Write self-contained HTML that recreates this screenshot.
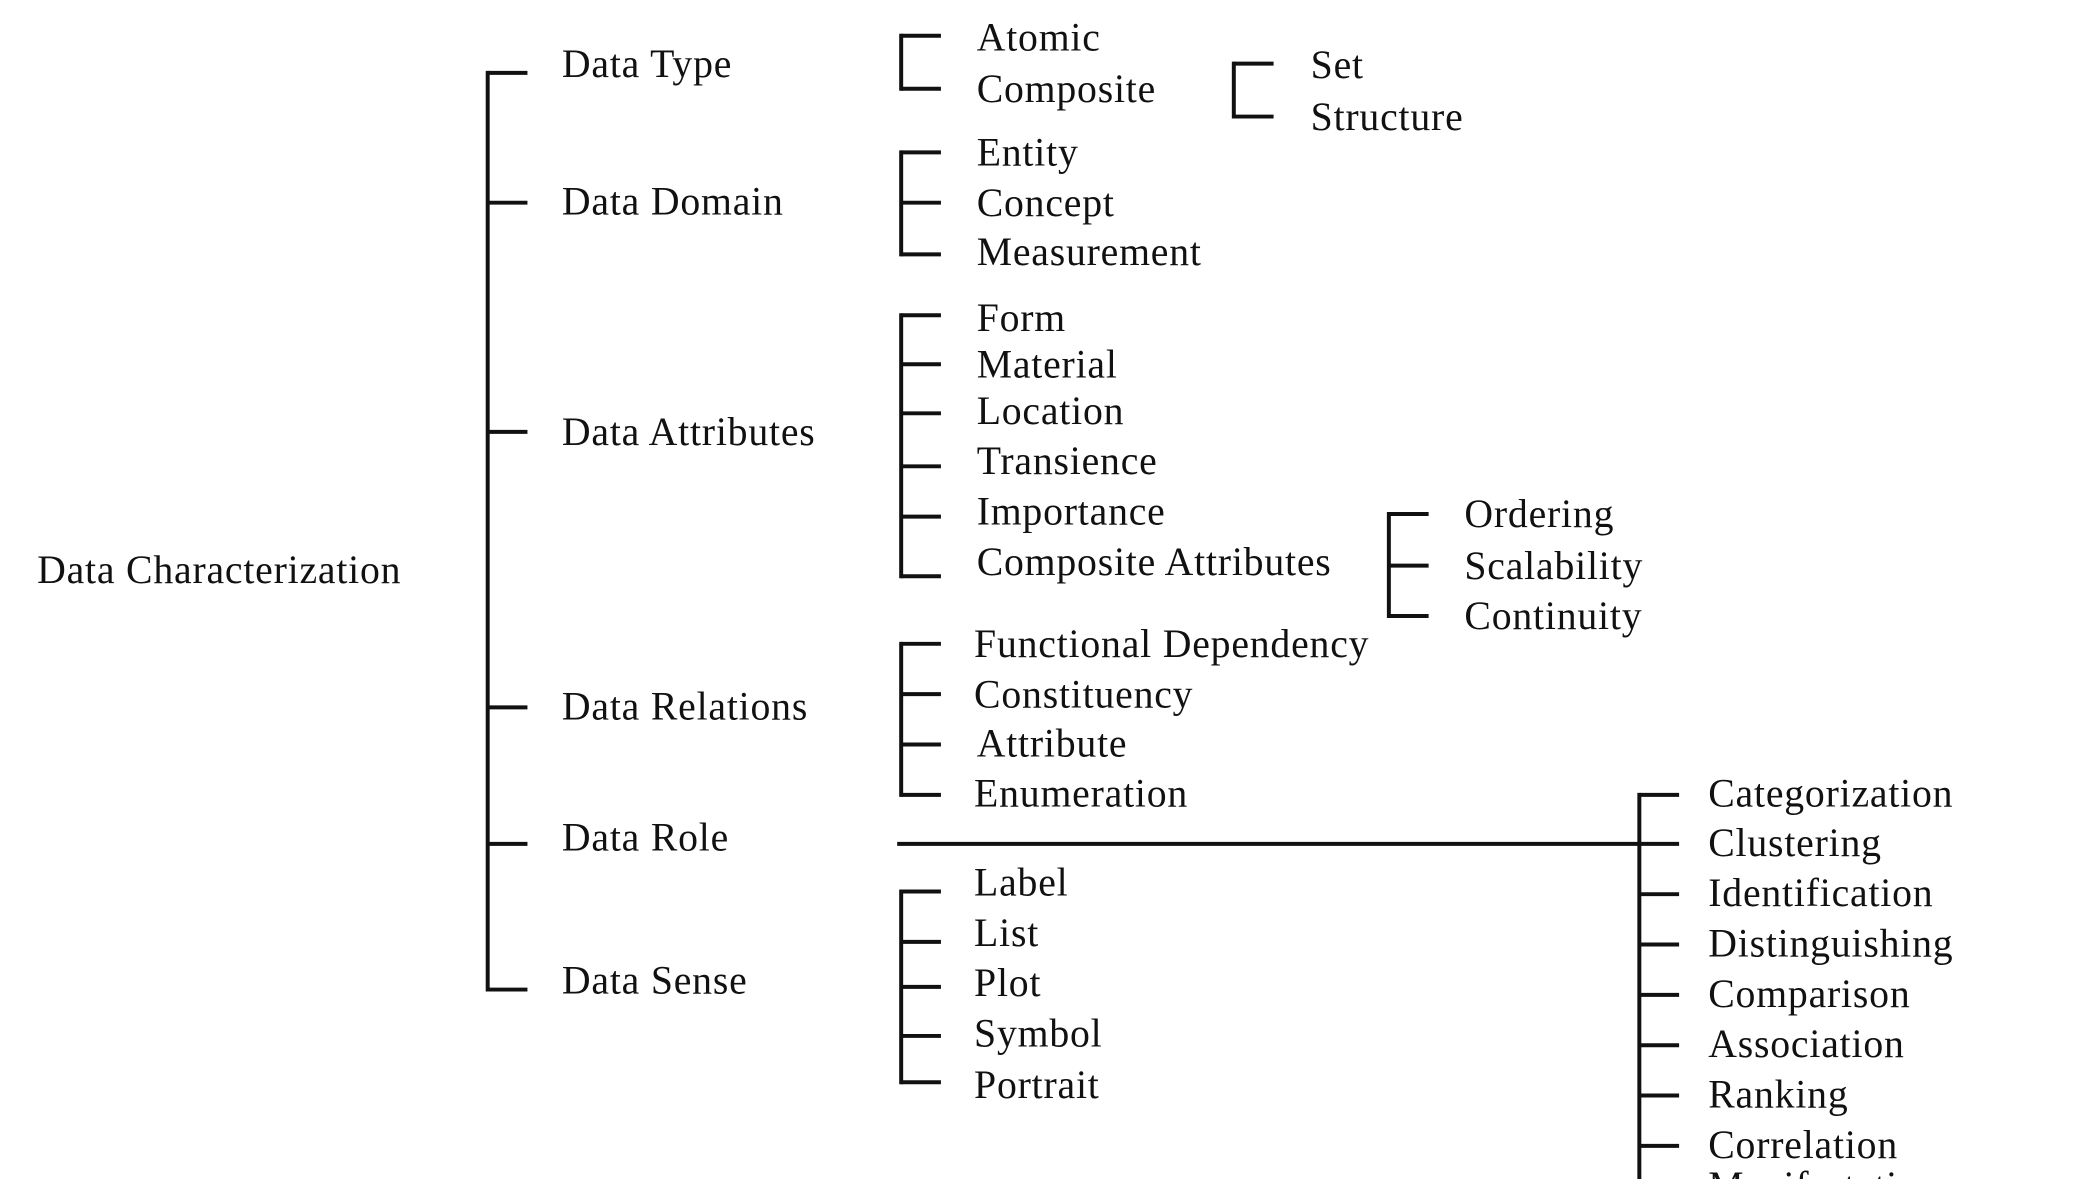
<!DOCTYPE html>
<html><head><meta charset="utf-8"><style>
html,body{margin:0;padding:0;background:#fff;}
svg text{font-family:"Liberation Serif",serif;font-size:30px;letter-spacing:0.6px;fill:#111;}
</style></head><body>
<svg width="2078" height="1179" viewBox="0 0 1568 890" preserveAspectRatio="none" xmlns="http://www.w3.org/2000/svg">
<g id="lines" stroke="#111" stroke-width="3" fill="none"></g>
<g id="labels"></g>
</svg>
<script>
const brackets = [
 {x:368, ticks:[55,153,326,534,637,747], top:55, bottom:747, name:'root-bracket'},
 {x:680, ticks:[27,67], name:'data-type-bracket'},
 {x:931, ticks:[48,88], name:'composite-bracket'},
 {x:680, ticks:[115,153,192], name:'data-domain-bracket'},
 {x:680, ticks:[238,275,312,352,390,435], name:'data-attributes-bracket'},
 {x:1048, ticks:[388,427,465], name:'composite-attributes-bracket'},
 {x:680, ticks:[486,524,562,600], name:'data-relations-bracket'},
 {x:1237, ticks:[600,637,675,713,751,789,827,865], top:600, bottom:895, name:'data-role-bracket'},
 {x:680, ticks:[673,711,745,782,817], name:'data-sense-bracket'}
];
const labels = [
 ['Data Characterization',28,440],
 ['Data Type',424,58],['Data Domain',424,162],['Data Attributes',424,336],['Data Relations',424,543],['Data Role',424,642],['Data Sense',424,750],
 ['Atomic',737,38],['Composite',737,77],['Set',989,59],['Structure',989,98],
 ['Entity',737,125],['Concept',737,163],['Measurement',737,200],
 ['Form',737,250],['Material',737,285],['Location',737,320],['Transience',737,358],['Importance',737,396],['Composite Attributes',737,434],
 ['Ordering',1105,398],['Scalability',1105,437],['Continuity',1105,475],
 ['Functional Dependency',735,496],['Constituency',735,534],['Attribute',737,571],['Enumeration',735,609],
 ['Label',735,676],['List',735,714],['Plot',735,752],['Symbol',735,790],['Portrait',735,829],
 ['Categorization',1289,609],['Clustering',1289,646],['Identification',1289,684],['Distinguishing',1289,722],['Comparison',1289,760],['Association',1289,798],['Ranking',1289,836],['Correlation',1289,874],['Manifestation',1289,905]
];
const NS='http://www.w3.org/2000/svg';
const lg=document.getElementById('lines'), tg=document.getElementById('labels');
function line(x1,y1,x2,y2,n){const l=document.createElementNS(NS,'line');l.setAttribute('x1',x1);l.setAttribute('y1',y1);l.setAttribute('x2',x2);l.setAttribute('y2',y2);


lg.appendChild(l);}
brackets.forEach(b=>{
 const top=b.top!==undefined?b.top:Math.min(...b.ticks), bot=b.bottom!==undefined?b.bottom:Math.max(...b.ticks);
 line(b.x,top-1.5,b.x,bot+1.5,b.name);
 b.ticks.forEach(t=>line(b.x,t,b.x+30,t,b.name+'-tick'));
});
line(677,637,1237,637,'data-role-connector');
labels.forEach(([s,x,y])=>{const t=document.createElementNS(NS,'text');t.setAttribute('x',x);t.setAttribute('y',y);t.textContent=s;


tg.appendChild(t);});
</script>
</body></html>
